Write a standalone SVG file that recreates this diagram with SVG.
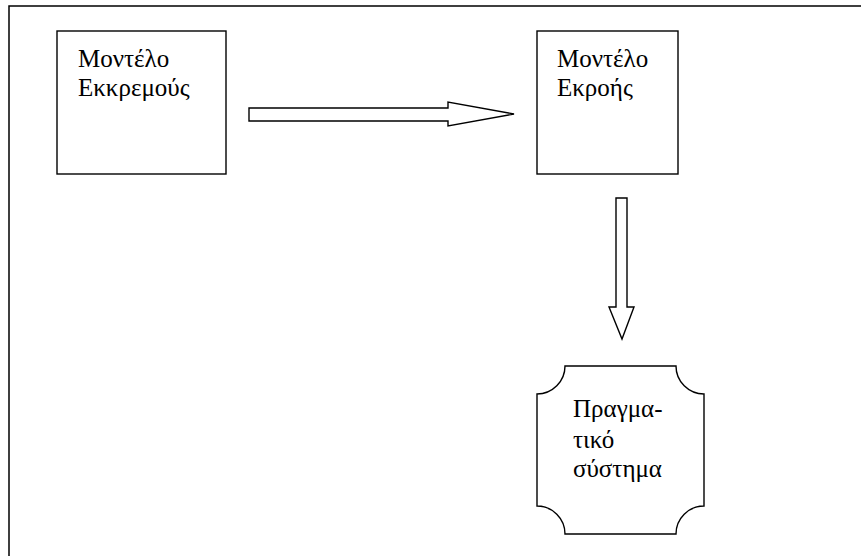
<svg xmlns="http://www.w3.org/2000/svg" width="861" height="556" viewBox="0 0 861 556">
  <style>
    .frame { fill: none; stroke: #000; stroke-width: 1.5; }
    .box { fill: #fff; stroke: #000; stroke-width: 1.4; }
    .arrow { fill: #fff; stroke: #000; stroke-width: 1.4; stroke-linejoin: miter; }
    .label { font-family: 'Liberation Serif', 'Times New Roman', serif; font-size: 25px; fill: #000; }
  </style>
  <rect width="861" height="556" fill="#fff"/>
  <!-- page frame, running off the right and bottom edges -->
  <rect class="frame" x="9" y="6" width="880" height="580"/>

  <g id="pendulum-model">
    <rect class="box" x="57" y="31" width="169" height="143"/>
    <text class="label" x="78" y="67">Μοντέλο</text>
    <text class="label" x="78" y="96">Εκκρεμούς</text>
  </g>

  <g id="output-model">
    <rect class="box" x="537" y="31" width="141" height="143"/>
    <text class="label" x="557" y="67">Μοντέλο</text>
    <text class="label" x="557" y="96">Εκροής</text>
  </g>

  <g id="real-system">
    <!-- plaque: rectangle with concave quarter-circle corners -->
    <path class="box" d="M565,366 H676 A28,28 0 0 0 704,394 V506 A28,28 0 0 0 676,534 H565 A28,28 0 0 0 537,506 V394 A28,28 0 0 0 565,366 Z"/>
    <text class="label" x="573" y="417">Πραγμα-</text>
    <text class="label" x="573" y="448">τικό</text>
    <text class="label" x="573" y="477">σύστημα</text>
  </g>

  <g id="connectors">
    <polygon class="arrow" points="249,108 448,108 448,102 514,114 448,126 448,121 249,121"/>
    <polygon class="arrow" points="616,198 627,198 627,307 634,307 622,339 609,307 616,307"/>
  </g>
</svg>
